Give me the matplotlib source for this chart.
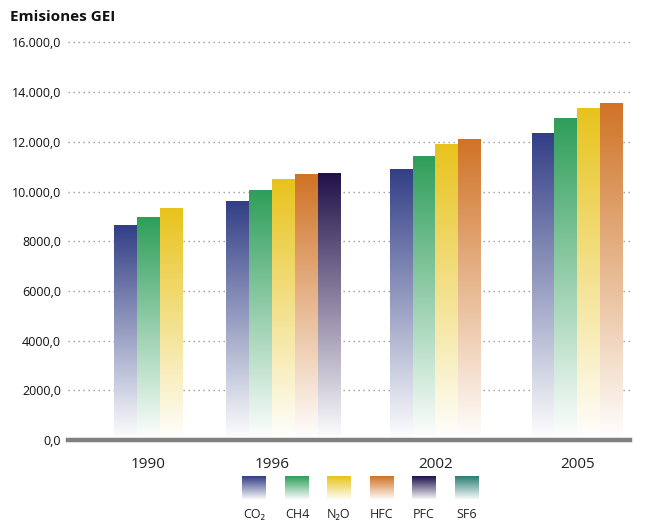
import numpy as np
import matplotlib
matplotlib.use("Agg")
import matplotlib.pyplot as plt
from matplotlib.colors import LinearSegmentedColormap

# data
years = ["1990", "1996", "2002", "2005"]
gases = ["CO₂", "CH4", "N₂O", "HFC", "PFC", "SF6"]
co2 = [8630, 9600, 10890, 12340]
ch4 = [8960, 10050, 11420, 12950]
n2o = [9320, 10490, 11900, 13350]
hfc = [np.nan, 10690, 12100, 13550]
pfc = [np.nan, 10730, np.nan, np.nan]
sf6 = [np.nan, np.nan, np.nan, np.nan]
series = [co2, ch4, n2o, hfc, pfc, sf6]

yticks = [0, 2000, 4000, 6000, 8000, 10000, 12000, 14000, 16000]
ytick_labels = ["0,0", "2000,0", "4000,0", "6000,0", "8000,0",
                "10.000,0", "12.000,0", "14.000,0", "16.000,0"]

colors = ["#323f86", "#2f9e5a", "#e8c31c", "#d07326", "#21124a", "#2a7f74"]

# layout (bar width = 1 unit)
group_start = [2.0, 6.9, 14.05, 20.25]
XMAX = 24.55
YMAX = 16500

plt.rcParams['font.family'] = ['Open Sans', 'DejaVu Sans']

fig = plt.figure(figsize=(6.45, 5.22), dpi=100)
ax = fig.add_axes([68 / 645, 82 / 522, 562 / 645, 410 / 522])

grad = np.linspace(0, 1, 256).reshape(-1, 1)

def gradient_bar(x0, h, color):
    cmap = LinearSegmentedColormap.from_list("g", ["#ffffff", color])
    ax.imshow(grad, cmap=cmap, extent=(x0, x0 + 1, 0, h), origin="lower",
              aspect="auto", interpolation="bilinear", zorder=2, vmin=0, vmax=1)

for g, start in enumerate(group_start):
    k = 0
    for s, vals in enumerate(series):
        v = vals[g]
        if np.isnan(v):
            continue
        gradient_bar(start + k, v, colors[s])
        k += 1
    n = min(k, 4)
    ax.text(start + n / 2, -700, years[g], ha="center", va="top",
            fontsize=11, color="#222222")

ax.set_xlim(0, XMAX)
ax.set_ylim(0, YMAX)

# dotted gridlines
for yv in yticks[1:]:
    ax.axhline(yv, color="#9a9a9a", lw=1, ls=(0, (1, 2.6)), zorder=1)
ax.axhline(0, color="#808080", lw=3.2, zorder=3, clip_on=False)

ax.set_yticks(yticks)
ax.set_yticklabels(ytick_labels, fontsize=9, color="#111111")
for lbl in ax.get_yticklabels()[:1]:
    lbl.set_y(250)
ax.tick_params(axis="y", length=0, pad=5)
ax.set_xticks([])
for sp in ax.spines.values():
    sp.set_visible(False)

fig.text(10 / 645, 1 - 17 / 522, "Emisiones GEI", fontsize=11,
         fontweight="bold", va="center", ha="left", color="#111111")

# legend with gradient squares
lx = [242, 285, 327, 370, 412, 455]
for i, gname in enumerate(gases):
    lax = fig.add_axes([lx[i] / 645, 1 - 499 / 522, 24 / 645, 23 / 522])
    cmap = LinearSegmentedColormap.from_list("g", ["#ffffff", colors[i]])
    lax.imshow(np.linspace(0.05, 1, 64).reshape(-1, 1), cmap=cmap,
               origin="lower", aspect="auto", vmin=0, vmax=1)
    lax.axis("off")
    fig.text((lx[i] + 12) / 645, 1 - 514 / 522, gname, ha="center",
             va="center", fontsize=9, color="#222222")

fig.savefig("out.png", dpi=100)
